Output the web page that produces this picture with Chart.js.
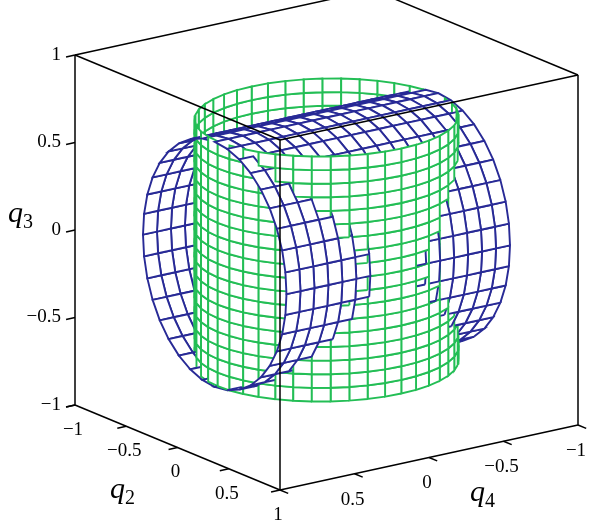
<!DOCTYPE html>
<html lang="en">
<head>
    <meta charset="UTF-8">
    <title>q2 q3 q4 surfaces</title>
    <script src="https://cdn.jsdelivr.net/npm/chart.js@4.4.0/dist/chart.umd.min.js"></script>
    <style>
        body { margin: 0; background: white; }
        #wrap { width: 592px; height: 522px; position: relative; }
    </style>
</head>
<body>
    <div id="wrap"><canvas id="plot"></canvas></div>
    <script>
        // axis ticks (same for all three axes)
        const tickValues = [-1, -0.5, 0, 0.5, 1];
        const tickLabels = ['\u22121', '\u22120.5', '0', '0.5', '1'];

        // green cylinder around q3: [radius, half height]
        const greenSize = [0.73, 0.7];
        const greenGrid = [44, 18];   // segments around, segments along
        // blue cylinder around q4: [radius, half length]
        const blueSize = [0.7, 0.75];
        const blueGrid = [36, 16];

        const GREEN = 'rgb(35,190,85)';
        const BLUE = 'rgb(40,42,150)';

        // orthographic view of the box, q = 0 at the centre
        function P(q2, q3, q4) {
            return { x: 326.5 + 102.5 * q2 - 149 * q4, y: 240 + 42.5 * q2 + 32.5 * q4 - 175 * q3 };
        }
        const view = [26075, 9663, 17937]; // toward viewer in (q2,q3,q4)
        const depth = (a) => a[0] * view[0] + a[1] * view[1] + a[2] * view[2];

        const quads = [];
        function addSurface(fn, nu, nv, color) {
            for (let i = 0; i < nu; i++) {
                for (let j = 0; j < nv; j++) {
                    const c = [fn(i, j), fn(i + 1, j), fn(i + 1, j + 1), fn(i, j + 1)];
                    const mid = [0, 1, 2].map(k => (c[0][k] + c[1][k] + c[2][k] + c[3][k]) / 4);
                    quads.push({ d: depth(mid), pts: c, color });
                }
            }
        }
        addSurface((i, j) => {
            const a = 2 * Math.PI * i / greenGrid[0];
            const t = -greenSize[1] + 2 * greenSize[1] * j / greenGrid[1];
            return [greenSize[0] * Math.cos(a), t, greenSize[0] * Math.sin(a)];
        }, greenGrid[0], greenGrid[1], GREEN);
        addSurface((i, j) => {
            const a = 2 * Math.PI * i / blueGrid[0];
            const s = -blueSize[1] + 2 * blueSize[1] * j / blueGrid[1];
            return [blueSize[0] * Math.cos(a), blueSize[0] * Math.sin(a), s];
        }, blueGrid[0], blueGrid[1], BLUE);

        // nearest first: dataset 0 is painted last
        quads.sort((a, b) => b.d - a.d);

        const datasets = [];
        const line = (pts, color, w) => ({
            data: pts, showLine: true, fill: false, borderColor: color, borderWidth: w,
            pointRadius: 0, tension: 0
        });

        // box edges and ticks on top
        const edges = [
            [[-1, -1, 1], [-1, 1, 1]], [[1, -1, 1], [1, 1, 1]], [[1, -1, -1], [1, 1, -1]],
            [[-1, -1, 1], [1, -1, 1]], [[1, -1, 1], [1, -1, -1]],
            [[-1, 1, 1], [1, 1, 1]], [[1, 1, 1], [1, 1, -1]],
            [[-1, 1, 1], [-1, 1, -1]], [[1, 1, -1], [-1, 1, -1]]
        ];
        edges.forEach(e => datasets.push(line(e.map(p => P(...p)), 'black', 1.5)));
        tickValues.forEach(v => {
            datasets.push(line([P(-1, v, 1), P(-1, v, 1.06)], 'black', 1.5));
            datasets.push(line([P(v, -1, 1), P(v, -1, 1.06)], 'black', 1.5));
            datasets.push(line([P(1, -1, v), P(1.08, -1, v)], 'black', 1.5));
        });

        quads.forEach(q => {
            const pts = q.pts.map(p => P(...p));
            pts.push(pts[0]);
            const ds = line(pts, q.color, 1.9);
            ds.fill = 'shape';
            ds.backgroundColor = 'white';
            datasets.push(ds);
        });

        const labelsPlugin = {
            id: 'labels',
            afterDraw(chart) {
                const ctx = chart.ctx;
                const sx = chart.scales.x, sy = chart.scales.y;
                const px = (p) => [sx.getPixelForValue(p.x), sy.getPixelForValue(p.y)];
                ctx.save();
                ctx.fillStyle = 'black';
                ctx.font = '19px "Liberation Serif"';
                ctx.textBaseline = 'middle';
                tickValues.forEach((v, i) => {
                    let [x, y] = px(P(-1, v, 1));
                    ctx.textAlign = 'right';
                    ctx.fillText(tickLabels[i], x - 14, y);
                    [x, y] = px(P(v, -1, 1));
                    ctx.textAlign = 'center';
                    ctx.fillText(tickLabels[i], x - 2, y + 25);
                    if (v !== 1) {
                        [x, y] = px(P(1, -1, v));
                        ctx.fillText(tickLabels[i], x - 2, y + 26);
                    }
                });
                const title = (x, y, sub) => {
                    ctx.textAlign = 'left';
                    ctx.font = 'italic 30px "Liberation Serif"';
                    ctx.fillText('q', x, y);
                    ctx.font = '20px "Liberation Serif"';
                    ctx.fillText(sub, x + 15, y + 9);
                };
                title(8, 214, '3');
                title(110, 490, '2');
                title(470, 493, '4');
                ctx.restore();
            }
        };

        new Chart(document.getElementById('plot'), {
            type: 'scatter',
            data: { datasets },
            options: {
                responsive: true,
                maintainAspectRatio: false,
                animation: false,
                events: [],
                layout: { padding: 0 },
                plugins: { legend: { display: false }, tooltip: { enabled: false } },
                scales: {
                    x: { type: 'linear', min: 0, max: 592, display: false },
                    y: { type: 'linear', min: 0, max: 522, reverse: true, display: false }
                }
            },
            plugins: [labelsPlugin]
        });
    </script>
</body>
</html>
